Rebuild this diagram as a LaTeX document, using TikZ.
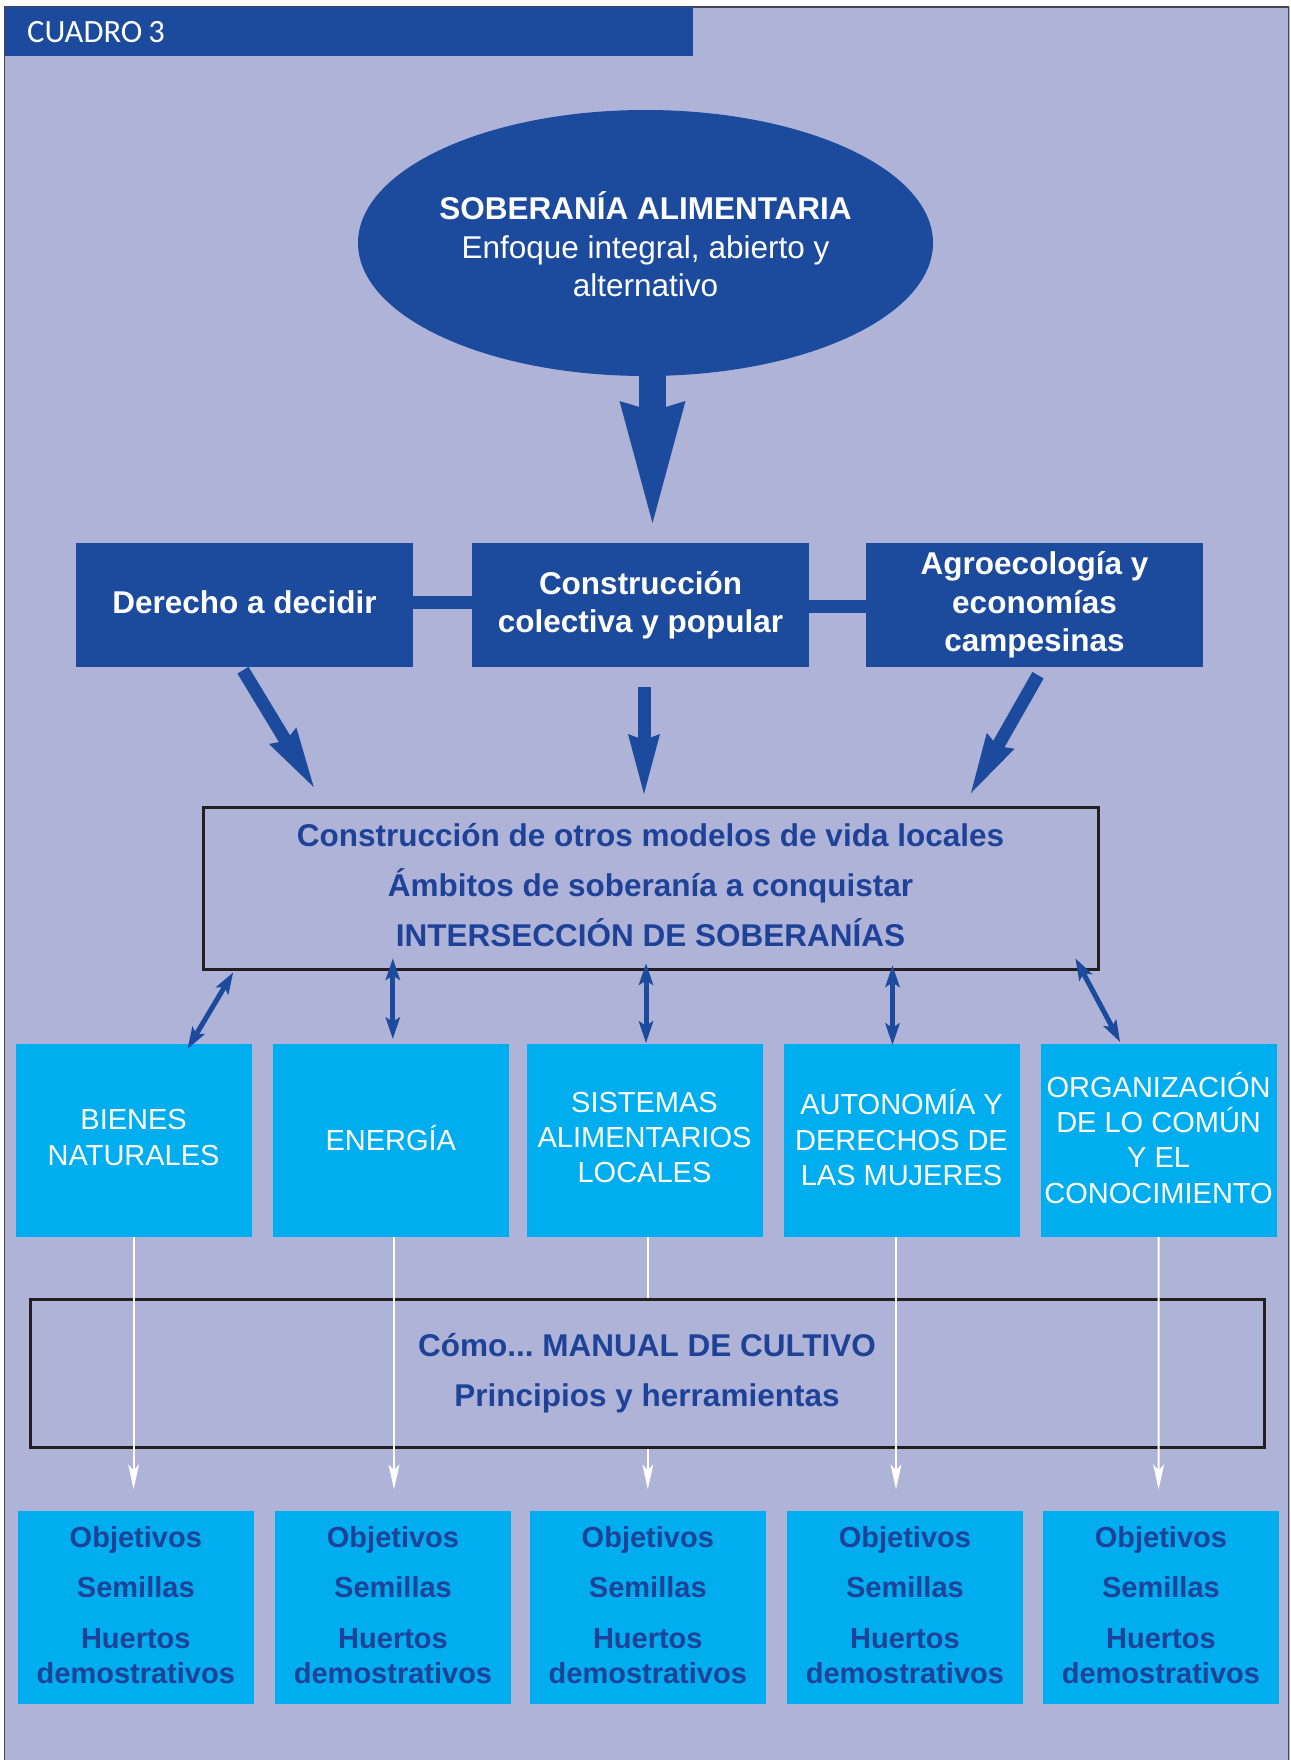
\documentclass[tikz,border=0pt]{standalone}
\usepackage{fontspec}
\setmainfont{Liberation Sans}
\newfontfamily\carlitofont{Carlito}
\usetikzlibrary{arrows.meta,shapes.geometric,calc}
\frenchspacing
\definecolor{dblue}{RGB}{28,74,156}
\definecolor{lav}{RGB}{175,179,216}
\definecolor{cyanb}{RGB}{0,174,239}
\definecolor{txtblue}{RGB}{30,66,152}
\definecolor{edgec}{RGB}{35,31,32}
\definecolor{framegray}{RGB}{70,70,80}
\tikzset{
 topbox/.style={fill=dblue, minimum width=337pt, minimum height=124pt, inner sep=0pt, text=white, font=\bfseries\fontsize{31.5}{38.5}\selectfont, align=center, execute at end node={\vphantom{p}}},
 catbox/.style={fill=cyanb, minimum width=236pt, minimum height=193pt, inner sep=0pt, text=white, font=\fontsize{29}{35.3}\selectfont, align=center, execute at end node={\vphantom{p}}},
 objbox/.style={fill=cyanb, minimum width=236pt, minimum height=193pt, inner sep=0pt, text=txtblue, font=\bfseries\fontsize{29}{35}\selectfont, align=center, execute at end node={\vphantom{p}}},
 outbox/.style={draw=edgec, line width=3pt, inner sep=0pt, text=txtblue, align=center, execute at end node={\vphantom{p}}},
 bigarrow/.style={draw=dblue, line width=13pt, -{Stealth[length=60pt,width=32pt,inset=6pt,line width=0pt]}},
 hugearrow/.style={draw=dblue, line width=27pt, -{Stealth[length=122pt,width=66pt,inset=10pt,line width=0pt]}},
 dblarrow/.style={draw=dblue, line width=5pt, {Stealth[length=22pt,width=15pt,inset=5pt,line width=0pt]}-{Stealth[length=22pt,width=15pt,inset=5pt,line width=0pt]}},
 warrow/.style={draw=white, line width=2pt, -{Stealth[length=25pt,width=11pt,inset=6pt,line width=0pt]}},
 link/.style={draw=dblue, line width=13pt},
}
\begin{document}
\begin{tikzpicture}[x=1pt,y=-1pt]
\useasboundingbox (0,0) rectangle (1290,1760);
% background and frame
\fill[lav] (4.5,7) rectangle (1290,1760);
\draw[framegray, line width=1.2pt] (4.5,1760) -- (4.5,7) -- (1288.5,7) -- (1288.5,1760);
% header band
\node[anchor=north west, fill=dblue, minimum width=688.5pt, minimum height=49pt, inner xsep=22.5pt, inner ysep=0pt, text width=643.5pt, align=left, text=white, font=\carlitofont\fontsize{32.5}{38}\selectfont] (hdr) at (4.5,7) {CUADRO\hspace{6pt}3};
% ellipse
\node[ellipse, fill=dblue, minimum width=575pt, minimum height=266pt, inner sep=0pt] (ell) at (645.5,243) {};
\node[text=white, align=center, font=\fontsize{31.5}{38.5}\selectfont, inner sep=0pt] (ellt) at (645.5,247.5) {{\bfseries SOBERANÍA ALIMENTARIA}\\Enfoque integral, abierto y\\alternativo\vphantom{p}};
\coordinate (e0) at (652.5,523);
\draw[hugearrow] ([xshift=7pt,yshift=8pt]ell.south) -- (e0);
% top boxes
\node[topbox] (b1) at (244.5,605) {Derecho a decidir};
\node[topbox] (b2) at (640.5,605) {Construcción\\colectiva y popular};
\node[topbox] (b3) at (1034.5,605) {Agroecología y\\economías\\campesinas};
\draw[link] ([yshift=3pt]b1.east) -- ([yshift=3pt]b2.west);
\draw[link] ([yshift=-1pt]b2.east) -- ([yshift=-1pt]b3.west);
% middle box
\node[outbox, minimum width=895pt, minimum height=162pt, font=\bfseries\fontsize{31.5}{50}\selectfont] (mb) at (650.5,888) {Construcción de otros modelos de vida locales\\Ámbitos de soberanía a conquistar\\INTERSECCIÓN DE SOBERANÍAS};
\coordinate (a1) at (313.7,787);
\coordinate (a2) at (644,794);
\coordinate (a3) at (971,793);
\draw[bigarrow] ([xshift=-1.5pt,yshift=-3pt]b1.south) -- (a1);
\draw[bigarrow] ([xshift=3.5pt,yshift=-20pt]b2.south) -- (a2);
\draw[bigarrow] ([xshift=3.5pt,yshift=-8pt]b3.south) -- (a3);
% category boxes
\node[catbox] (c1) at (133.6,1140.5) {BIENES\\NATURALES};
\node[catbox] (c2) at (390.8,1140.5) {ENERGÍA};
\node[catbox] (c3) at (644.5,1140.5) {SISTEMAS\\ALIMENTARIOS\\LOCALES};
\node[catbox] (c4) at (901.5,1140.5) {AUTONOMÍA Y\\DERECHOS DE\\LAS MUJERES};
\node[catbox] (c5) at (1158.6,1140.5) {ORGANIZACIÓN\\DE LO COMÚN\\Y EL\\CONOCIMIENTO};
\draw[dblarrow] ($(mb.south west)+(31.6,2)$) -- ($(c1.north)+(54,5)$);
\draw[dblarrow] ($(mb.south -| c2)+(2,-12)$) -- ($(c2.north)+(2,-5)$);
\draw[dblarrow] ($(mb.south -| c3)+(1.5,-7)$) -- ($(c3.north)+(1.5,-1)$);
\draw[dblarrow] ($(mb.south -| c4)+(-9,-5)$) -- ($(c4.north)+(-9,1)$);
\draw[dblarrow] ($(mb.south east)+(-24,-12)$) -- ($(c5.north)+(-38.6,-2)$);
% bottom boxes
\node[objbox] (o1) at (135.8,1607.5) {Objetivos\\[15.5pt]Semillas\\[15.5pt]Huertos\\demostrativos};
\node[objbox] (o2) at (393,1607.5) {Objetivos\\[15.5pt]Semillas\\[15.5pt]Huertos\\demostrativos};
\node[objbox] (o3) at (647.8,1607.5) {Objetivos\\[15.5pt]Semillas\\[15.5pt]Huertos\\demostrativos};
\node[objbox] (o4) at (904.9,1607.5) {Objetivos\\[15.5pt]Semillas\\[15.5pt]Huertos\\demostrativos};
\node[objbox] (o5) at (1160.9,1607.5) {Objetivos\\[15.5pt]Semillas\\[15.5pt]Huertos\\demostrativos};
% middle white arrow passes behind the manual box
\draw[warrow] ($(c3.south)+(3.3,0)$) -- ($(o3.north)+(0,-21.5)$);
\node[outbox, fill=lav, minimum width=1234pt, minimum height=148pt, font=\bfseries\fontsize{31.5}{50.5}\selectfont] (man) at (647,1373) {Cómo... MANUAL DE CULTIVO\\Principios y herramientas};
\draw[warrow] ($(c1.south)+(0,0)$) -- ($(o1.north)+(-2.2,-21.5)$);
\draw[warrow] ($(c2.south)+(3.2,0)$) -- ($(o2.north)+(1,-21.5)$);
\draw[warrow] ($(c4.south)+(-5.5,0)$) -- ($(o4.north)+(-8.9,-21.5)$);
\draw[warrow] ($(c5.south)+(0,0)$) -- ($(o5.north)+(-2.3,-21.5)$);
\end{tikzpicture}
\end{document}
